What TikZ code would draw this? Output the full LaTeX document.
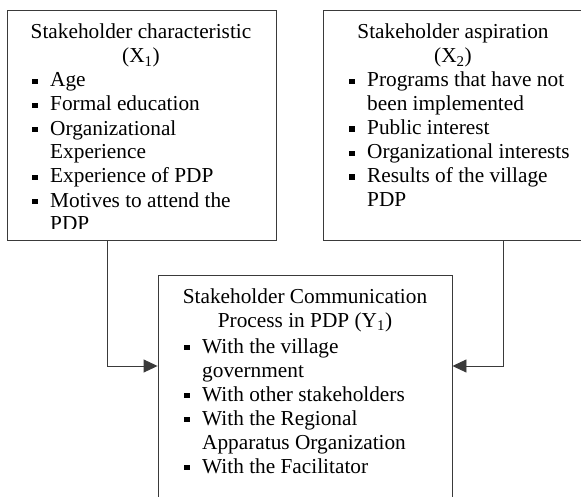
\documentclass[tikz,border=0pt]{standalone}
\usepackage{fontspec}
\setmainfont{Liberation Serif}
\usetikzlibrary{arrows.meta}
\newcommand{\bul}{\makebox[18pt][l]{\raisebox{3pt}{\rule{5.5pt}{5.5pt}}}}
\newcommand{\cnt}{\hspace*{18pt}}
\definecolor{linegray}{HTML}{3A3A3A}
\begin{document}
\begin{tikzpicture}[x=1pt,y=-1pt,
  box/.style={draw=linegray, line width=0.9pt, inner sep=0pt, rectangle},
  txt/.style={font=\fontsize{21.3}{24}\selectfont, inner sep=0pt, text=black},
  conn/.style={draw=linegray, line width=0.9pt, -{Triangle[length=14pt,width=13pt]}}]
\useasboundingbox (0,0) rectangle (581,497);
\clip (0,0) rectangle (581,497);
\fill[white] (0,0) rectangle (581,497);
% boxes
\node[box, minimum width=269pt, minimum height=230pt] (b1) at (141.5,125) {};
\node[box, minimum width=260pt, minimum height=230pt] (b2) at (453,125) {};
\node[box, minimum width=294pt, minimum height=245pt] (b3) at (305,397.5) {};
% box 1 text
\node[txt, align=center, anchor=base] (t1) at (141,63) {Stakeholder characteristic\\(X\textsubscript{1})};
\begin{scope}
\clip (7,10) rectangle (276,229);
\node[txt, align=left, anchor=base west] (l1) at (32,231) {\bul Age\\\bul Formal education\\\bul Organizational\\\cnt Experience\\\bul Experience of PDP\\\bul Motives to attend the\\\cnt PDP};
\end{scope}
% box 2 text
\node[txt, align=center, anchor=base] (t2) at (453,63) {Stakeholder aspiration\\(X\textsubscript{2})};
\node[txt, align=left, anchor=base west] (l2) at (349,207) {\bul Programs that have not\\\cnt been implemented\\\bul Public interest\\\bul Organizational interests\\\bul Results of the village\\\cnt PDP};
% box 3 text
\node[txt, align=center, anchor=base] (t3) at (305,327) {Stakeholder Communication\\Process in PDP (Y\textsubscript{1})};
\node[txt, align=left, anchor=base west] (l3) at (184,473) {\bul With the village\\\cnt government\\\bul With other stakeholders\\\bul With the Regional\\\cnt Apparatus Organization\\\bul With the Facilitator};
% connectors
\coordinate (j1) at (107,366);
\coordinate (j2) at (503,366);
\draw[conn] (b1.south -| j1) -- (j1) -- (j1 -| b3.west);
\draw[conn] (b2.south -| j2) -- (j2) -- (j2 -| b3.east);
\end{tikzpicture}
\end{document}
